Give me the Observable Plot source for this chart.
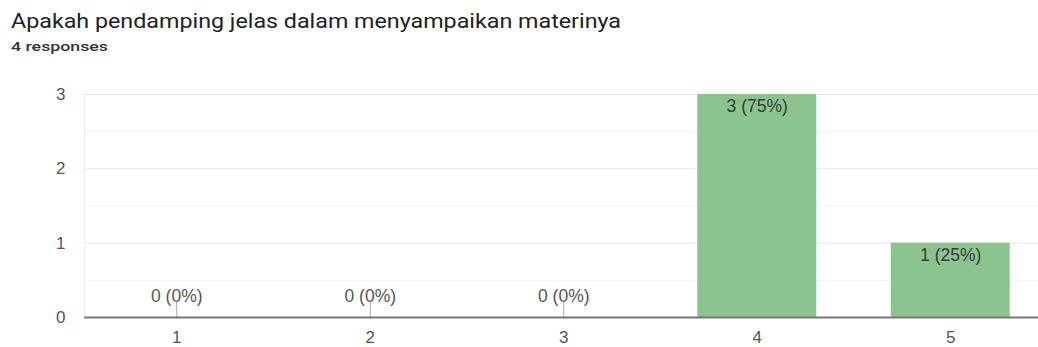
<!DOCTYPE html>
<html>
<head>
<meta charset="utf-8">
<script src="https://cdn.jsdelivr.net/npm/d3@7"></script>
<script src="https://cdn.jsdelivr.net/npm/@observablehq/plot@0.6"></script>
<style>
  html, body { margin: 0; padding: 0; background: #fff; width: 1038px; height: 347px; overflow: hidden; }
  #head { height: 60px; position: relative; }
  #title { position: absolute; left: 11px; top: 9px; font-family: Roboto, "Noto Sans", sans-serif; font-size: 21px; color: #202124; white-space: nowrap; transform-origin: 0 0; }
  #sub { position: absolute; left: 11px; top: 38px; font-family: Roboto, "Noto Sans", sans-serif; font-size: 13.5px; font-weight: 500; color: #333; white-space: nowrap; transform-origin: 0 0; }
  #chart svg { display: block; }
</style>
</head>
<body>
<div id="head">
  <div id="title">Apakah pendamping jelas dalam menyampaikan materinya</div>
  <div id="sub">4 responses</div>
</div>
<div id="chart"></div>
<script>
const categories = ["1", "2", "3", "4", "5"];
const counts = [0, 0, 0, 3, 1];
const labels = ["0 (0%)", "0 (0%)", "0 (0%)", "3 (75%)", "1 (25%)"];
const yTicks = [0, 1, 2, 3];
const majorGrid = [1, 2, 3];
const minorGrid = [0.5, 1.5, 2.5];

const data = categories.map((c, i) => ({cat: c, n: counts[i], label: labels[i]}));
const zeros = data.filter(d => d.n === 0);
const nonzero = data.filter(d => d.n > 0);

const chart = Plot.plot({
  width: 1038,
  height: 287,
  marginTop: 34,
  marginBottom: 30,
  marginLeft: 84,
  marginRight: 0,
  style: {fontFamily: "'Liberation Sans', Arial, sans-serif", fontSize: "17px", color: "#555", background: "#fff"},
  x: {domain: categories, range: [79.5, 1047], paddingInner: 0.385, paddingOuter: 0.1925, round: false, tickSize: 0, tickPadding: 13, label: null},
  y: {domain: [0, 3], ticks: yTicks, tickSize: 0, tickPadding: 19, label: null, tickFormat: d3.format("d")},
  marks: [
    Plot.ruleY(minorGrid, {stroke: "#f2f2f2", strokeWidth: 1}),
    Plot.ruleY(majorGrid, {stroke: "#e6e6e6", strokeWidth: 1}),
    Plot.frame({anchor: "left", stroke: "#eeeeee"}),
    Plot.barY(data, {x: "cat", y: "n", fill: "#8bc48e"}),
    Plot.ruleX(zeros, {x: "cat", y1: 0, y2: 0, insetTop: -15, stroke: "#aaaaaa", strokeWidth: 1}),
    Plot.ruleY([0], {stroke: "#777", strokeWidth: 2}),
    Plot.text(zeros, {x: "cat", y: "n", text: "label", dy: -21, fill: "#555", fontSize: 17.5}),
    Plot.text(nonzero, {x: "cat", y: "n", text: "label", dy: 12, fill: "#3a3a3a", fontSize: 17.5})
  ]
});
document.getElementById("chart").appendChild(chart);

// stretch header text horizontally to match the reference widths
function fit(id, target) {
  const el = document.getElementById(id);
  const w = el.getBoundingClientRect().width;
  if (w > 0) el.style.transform = `scaleX(${target / w})`;
}
fit("title", 610);
fit("sub", 97);
</script>
</body>
</html>
